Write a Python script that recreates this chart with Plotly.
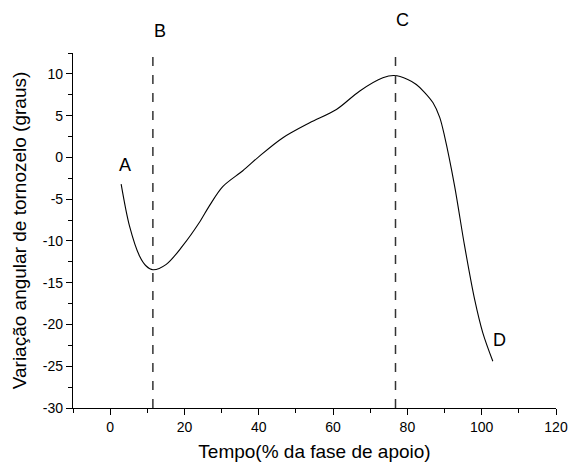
import plotly.graph_objects as go

# Curve data
tempo = [2.96, 5.2, 7.9, 9.7, 11.5, 15.1, 19.5, 24.0, 26.7, 30.3, 35.7,
         40.2, 46.5, 53.7, 60.9, 67.1, 73.4, 76.5, 80.1, 82.4, 84.6, 86.9,
         88.7, 90.0, 92.7, 95.4, 98.1, 100.3, 103.0]
angulo = [-3.2, -8.2, -11.8, -13.0, -13.45, -12.8, -10.6, -7.8, -5.8, -3.5,
          -1.6, 0.16, 2.36, 4.15, 5.74, 7.93, 9.53, 9.8, 9.33, 8.73, 7.8, 6.54,
          4.8, 2.55, -3.4, -10.6, -17.0, -21.0, -24.4]

# Event markers
event_x = [11.5, 76.8]

# Point labels
label_text = ["A", "B", "C", "D"]
label_x = [3.9, 13.3, 78.7, 104.8]
label_y = [-0.9, 15.1, 16.5, -21.9]

x_ticks = [0, 20, 40, 60, 80, 100, 120]
x_tick_labels = ["0", "20", "40", "60", "80", "100", "120"]
y_ticks = [-30, -25, -20, -15, -10, -5, 0, 5, 10]
y_tick_labels = ["-30", "-25", "-20", "-15", "-10", "-5", "0", "5", "10"]

X_RANGE = [-10, 120]
Y_RANGE = [-30, 12.5]

FONT = "Liberation Sans, Arial, sans-serif"

fig = go.Figure()
fig.add_trace(go.Scatter(x=tempo, y=angulo, mode="lines",
                         line=dict(color="black", width=1.1, shape="spline", smoothing=0.9),
                         showlegend=False, hoverinfo="skip"))

for ex in event_x:
    fig.add_shape(type="line", x0=ex, x1=ex, xref="x", y0=0, y1=1, yref="paper",
                  line=dict(color="#333333", width=1.5, dash="dash"))

for t, lx, ly in zip(label_text, label_x, label_y):
    py = (ly - Y_RANGE[0]) / (Y_RANGE[1] - Y_RANGE[0])
    fig.add_annotation(x=lx, y=py, text=t, showarrow=False, xref="x", yref="paper",
                       xanchor="center", yanchor="middle",
                       font=dict(family=FONT, size=18, color="black"))

fig.update_layout(
    width=568, height=466,
    margin=dict(l=73, r=12, t=53, b=58, autoexpand=False),
    plot_bgcolor="white", paper_bgcolor="white",
    font=dict(family=FONT, color="black"),
    showlegend=False,
)
fig.update_xaxes(
    range=X_RANGE, tickvals=x_ticks, ticktext=x_tick_labels, ticks="outside",
    ticklen=6, tickwidth=1,
    tickcolor="black", showline=True, linecolor="black", linewidth=1.2,
    showgrid=False, zeroline=False, tickfont=dict(size=14, family=FONT),
    automargin=False,
    minor=dict(dtick=10, tick0=0, ticks="outside", ticklen=4, tickcolor="black", showgrid=False),
    title=dict(text="Tempo(% da fase de apoio)", font=dict(size=19, family=FONT), standoff=10),
)
fig.update_yaxes(
    range=Y_RANGE, tickvals=y_ticks, ticktext=y_tick_labels, ticks="outside",
    ticklen=6, tickwidth=1,
    tickcolor="black", showline=True, linecolor="black", linewidth=1.2,
    showgrid=False, zeroline=False, tickfont=dict(size=14, family=FONT),
    automargin=False,
    minor=dict(dtick=2.5, tick0=0, ticks="outside", ticklen=4, tickcolor="black", showgrid=False),
    title=dict(text="Variação angular de tornozelo (graus)", font=dict(size=19, family=FONT), standoff=11),
)

# remove the browser's default 8px body margin so the figure fills the window exactly
fig.write_html("out.html", config={"displayModeBar": False},
               post_script="document.body.style.margin='0';")
